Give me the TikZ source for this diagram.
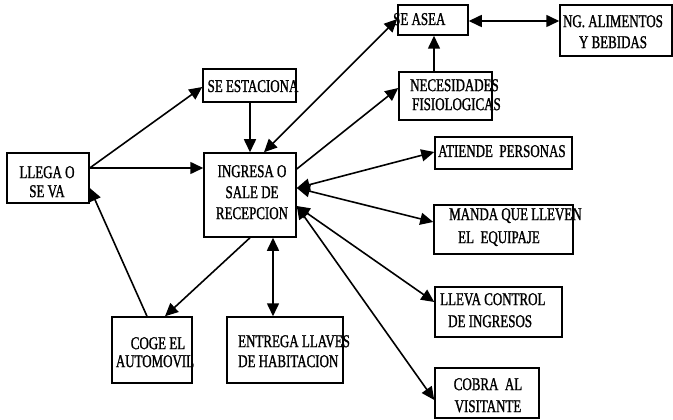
\documentclass[tikz,border=0pt]{standalone}
\usepackage{fontspec}
\setmainfont{Liberation Serif}[FakeStretch=0.72,FakeBold=1.2]
\usetikzlibrary{arrows.meta}
\begin{document}
\begin{tikzpicture}[x=1pt,y=-1pt,
  box/.style={draw, line width=1.5pt, inner sep=0pt},
  lbl/.style={inner sep=0pt, font=\fontsize{18}{20}\selectfont},
  con/.style={line width=1.6pt, -{Triangle[length=13pt,width=12pt]}},
  dcon/.style={line width=1.6pt, {Triangle[length=13pt,width=12pt]}-{Triangle[length=13pt,width=12pt]}}]
\useasboundingbox (0,0) rectangle (673,420);
\fill[white] (0,0) rectangle (673,420);
% labels
\node[lbl, align=center, anchor=north, font=\fontsize{18}{19}\selectfont] (tllega) at (47,166) {LLEGA O\\SE VA};
\node[lbl, anchor=base] (testac) at (253,92) {SE ESTACIONA};
\node[lbl, align=center, anchor=north, font=\fontsize{18}{21}\selectfont] (tingresa) at (252,165) {INGRESA O\\SALE DE\\RECEPCION};
\node[lbl, anchor=base west] (tasea) at (393,25) {SE ASEA};
\node[lbl, align=center, anchor=north, font=\fontsize{18}{21}\selectfont] (talim) at (613,15) {NG. ALIMENTOS\\Y BEBIDAS};
\node[lbl, align=left, anchor=north west, font=\fontsize{18}{19}\selectfont] (tnecesid) at (410,79) {NECESIDADES\\\hspace*{2pt}FISIOLOGICAS};
\node[lbl, anchor=base west] (tatiende) at (438,157) {ATIENDE\ \ PERSONAS};
\node[lbl, align=left, anchor=north west, font=\fontsize{18}{23}\selectfont] (tmanda) at (449,208) {MANDA QUE LLEVEN\\\hspace*{9pt}EL\ \ EQUIPAJE};
\node[lbl, align=left, anchor=north west, font=\fontsize{18}{22}\selectfont] (tlleva) at (440,293) {LLEVA CONTROL\\\hspace*{8pt}DE INGRESOS};
\node[lbl, align=center, anchor=north, font=\fontsize{18}{22}\selectfont] (tcobra) at (488,378) {COBRA\ \ AL\\VISITANTE};
\node[lbl, align=center, anchor=north, font=\fontsize{18}{18}\selectfont] (tcoge) at (155,337) {\hspace*{6pt}COGE EL\\AUTOMOVIL};
\node[lbl, align=left, anchor=north west, font=\fontsize{18}{20}\selectfont] (tentrega) at (238,335) {ENTREGA LLAVES\\DE HABITACION};
% boxes
\node[box, minimum width=82pt, minimum height=50pt] (llega) at (48,178) {};
\node[box, minimum width=93pt, minimum height=33pt] (estac) at (249.5,85.5) {};
\node[box, minimum width=92pt, minimum height=84pt] (ingresa) at (250,195) {};
\node[box, minimum width=70pt, minimum height=30pt] (asea) at (433,20) {};
\node[box, minimum width=112pt, minimum height=51pt] (alim) at (616,30.5) {};
\node[box, minimum width=93pt, minimum height=48pt] (necesid) at (445.5,96) {};
\node[box, minimum width=137pt, minimum height=32pt] (atiende) at (503.5,153) {};
\node[box, minimum width=139pt, minimum height=49pt] (manda) at (503.5,229.5) {};
\node[box, minimum width=127pt, minimum height=50pt] (lleva) at (498.5,312) {};
\node[box, minimum width=104pt, minimum height=50pt] (cobra) at (487,393) {};
\node[box, minimum width=80pt, minimum height=66pt] (coge) at (152,350) {};
\node[box, minimum width=116pt, minimum height=66pt] (entrega) at (285,350) {};
% connectors
\draw[con] (llega.east |- 0,168) -- (estac.west |- 0,87);
\draw[con] (llega.east |- 0,168) -- (ingresa.west |- 0,168);
\draw[con] (estac.south -| 250,0) -- (ingresa.north -| 250,0);
\draw[con] (ingresa.south -| 250,0) -- (coge.north -| 165,0);
\draw[con] (coge.north -| 147,0) -- (llega.east |- 0,188);
\draw[dcon] (ingresa.south -| 273,0) -- (entrega.north -| 273,0);
\draw[dcon] (ingresa.north -| 264,0) -- (asea.west |- 0,19);
\draw[con] (ingresa.east |- 0,169) -- (necesid.west |- 0,88);
\draw[con] (necesid.north -| 434,0) -- (asea.south -| 434,0);
\draw[dcon] (asea.east |- 0,21) -- (alim.west |- 0,21);
\draw[dcon] (ingresa.east |- 0,188) -- (atiende.west |- 0,152);
\draw[dcon] (ingresa.east |- 0,188) -- (manda.west |- 0,222);
\draw[dcon] (ingresa.east |- 0,206) -- (lleva.west |- 0,302);
\draw[dcon] (ingresa.east |- 0,206) -- (cobra.west |- 0,400);
\end{tikzpicture}
\end{document}
